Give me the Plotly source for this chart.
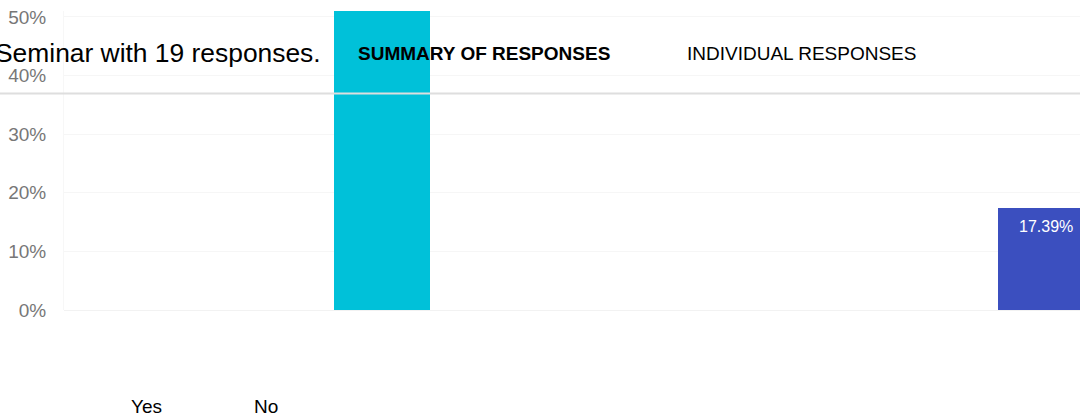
import plotly.graph_objects as go

# Survey answers and their share of responses (%)
answers = ["Yes", "No"]
shares = [52.17, 17.39]
bar_colors = ["#00C1D9", "#3B4FBF"]

# Y-axis ticks (%)
y_ticks = [0, 10, 20, 30, 40, 50]
y_tick_labels = [f"{t}%" for t in y_ticks]

# Page header texts
heading = "Seminar with 19 responses."
tabs = ["SUMMARY OF RESPONSES", "INDIVIDUAL RESPONSES"]

FONT = "Arial, 'Liberation Sans', sans-serif"

# column slot for each answer along the x axis
slot = {"Yes": 0, "No": 2}
xs = [slot[a] for a in answers]

fig = go.Figure()
fig.add_trace(go.Bar(
    x=xs,
    y=shares,
    width=0.289,
    marker=dict(color=bar_colors, line=dict(width=0)),
    hoverinfo="skip",
    showlegend=False,
))

# value label inside the top of the "No" column
fig.add_annotation(
    x=slot["No"], y=shares[1], xref="x", yref="y",
    text=f"{shares[1]:.2f}%", showarrow=False,
    yanchor="top", yshift=-8,
    font=dict(family=FONT, size=16, color="white"),
)

W, H = 1080, 418
L, R, T, B = 64, 0, 11, 108
pw = W - L - R
ph = H - T - B


def px_to_paper_x(px):
    return (px - L) / pw


def px_to_paper_y(py):
    return (H - B - py) / ph


# page heading (runs off the left edge)
fig.add_annotation(
    x=px_to_paper_x(322.5), y=px_to_paper_y(53), xref="paper", yref="paper",
    text=heading, showarrow=False, xanchor="right", yanchor="middle",
    font=dict(family=FONT, size=26.4, color="black"),
)
# tabs
fig.add_annotation(
    x=px_to_paper_x(356), y=px_to_paper_y(53), xref="paper", yref="paper",
    text=f"<b>{tabs[0]}</b>", showarrow=False, xanchor="left", yanchor="middle",
    font=dict(family=FONT, size=19, color="black"),
)
fig.add_annotation(
    x=px_to_paper_x(685), y=px_to_paper_y(53), xref="paper", yref="paper",
    text=tabs[1], showarrow=False, xanchor="left", yanchor="middle",
    font=dict(family=FONT, size=19, color="black"),
)
# separator under the tabs
fig.add_shape(
    type="line", xref="paper", yref="paper",
    x0=px_to_paper_x(0), x1=1, y0=px_to_paper_y(93.5), y1=px_to_paper_y(93.5),
    line=dict(color="#DEDEDE", width=2), layer="above",
)
# answer labels along the bottom
for name, cx in zip(answers, [146.5, 265.5]):
    fig.add_annotation(
        x=px_to_paper_x(cx), y=px_to_paper_y(406), xref="paper", yref="paper",
        text=name, showarrow=False, xanchor="center", yanchor="middle",
        font=dict(family=FONT, size=19, color="black"),
    )

fig.update_layout(
    width=W, height=H,
    margin=dict(l=L, r=R, t=T, b=B, pad=0),
    paper_bgcolor="white",
    plot_bgcolor="white",
    bargap=0,
    xaxis=dict(
        range=[-0.9578, 2.1024],
        showticklabels=False, showgrid=False, zeroline=False,
        showline=False, fixedrange=True,
    ),
    yaxis=dict(
        range=[0, 51.0],
        tickvals=y_ticks, ticktext=y_tick_labels,
        tickfont=dict(family=FONT, size=19, color="#777777"),
        showgrid=True, gridcolor="#F6F6F6", gridwidth=1,
        zeroline=True, zerolinecolor="#F2F2F2", zerolinewidth=1,
        showline=True, linecolor="#F7F7F7", linewidth=1,
        ticks="", ticklabelstandoff=13,
        fixedrange=True,
    ),
)

fig.write_html("out.html", config={"displayModeBar": False})
